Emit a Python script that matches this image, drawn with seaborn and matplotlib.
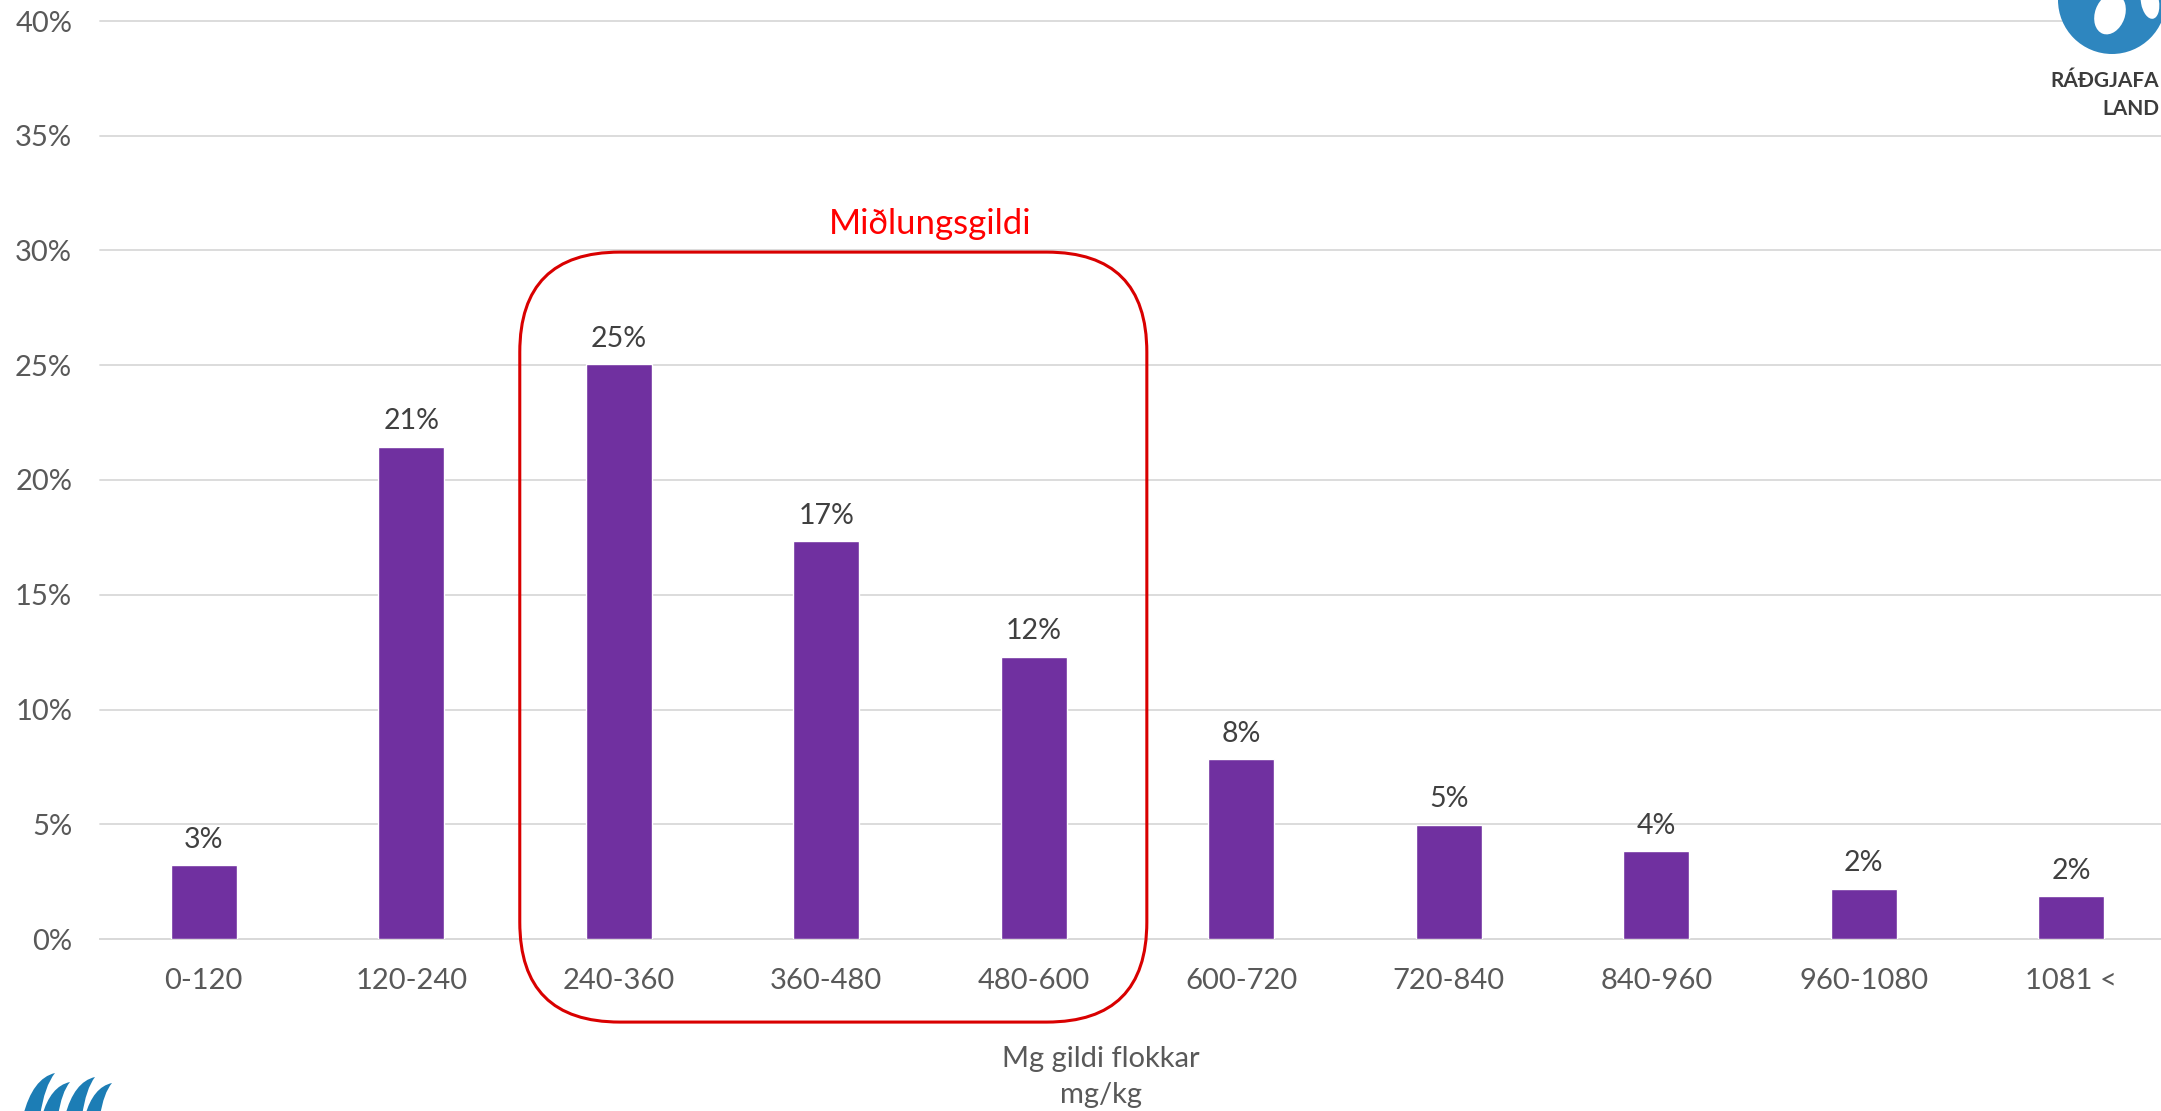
import numpy as np
import pandas as pd
import matplotlib
matplotlib.use("Agg")
import matplotlib.pyplot as plt
import seaborn as sns
from matplotlib.patches import FancyBboxPatch, Ellipse, Circle, PathPatch
from matplotlib.path import Path
from matplotlib.transforms import IdentityTransform

# ---------------- data ----------------
categories = ["0-120", "120-240", "240-360", "360-480", "480-600",
              "600-720", "720-840", "840-960", "960-1080", "1081 <"]
values = [3.22, 21.45, 25.05, 17.34, 12.29, 7.84, 4.97, 3.83, 2.18, 1.87]
y_ticks = [0, 5, 10, 15, 20, 25, 30, 35, 40]
y_tick_labels = [f"{t}%" for t in y_ticks]
x_title = "Mg gildi flokkar\nmg/kg"
highlight_label = "Miðlungsgildi"

# ---------------- style ----------------
sns.set_style("white")
plt.rcParams['font.family'] = ['Lato', 'DejaVu Sans']

W, H, DPI = 2161, 1111, 100
fig = plt.figure(figsize=(W / DPI, H / DPI), dpi=DPI)
fig.patch.set_facecolor("white")
ax = fig.add_axes([100 / W, 172 / H, 2075 / W, 918 / H])

df = pd.DataFrame({"flokkur": categories, "hlutfall": values})
sns.barplot(data=df, x="flokkur", y="hlutfall", color="#7030A0",
            saturation=1, width=0.318, errorbar=None, ax=ax, zorder=3)

ax.set_xlim(-0.5, len(categories) - 0.5)
ax.set_ylim(0, 40)
ax.set_yticks(y_ticks)
ax.set_yticklabels(y_tick_labels)

ax.bar_label(ax.containers[0], labels=[f"{v:.0f}%" for v in values],
             padding=9, fontsize=20.5, color="#404040")

ax.grid(axis="y", color="#d9d9d9", linewidth=1.3)
ax.grid(axis="x", visible=False)
ax.set_axisbelow(True)
for gl in ax.get_ygridlines():
    gl.set_clip_on(False)
for s in ["top", "right", "left"]:
    ax.spines[s].set_visible(False)
ax.spines["bottom"].set_color("#d9d9d9")
ax.spines["bottom"].set_linewidth(1.3)

ax.tick_params(axis="both", length=0, labelsize=21, labelcolor="#595959")
ax.tick_params(axis="y", pad=20)
ax.tick_params(axis="x", pad=21)

ax.set_ylabel("")
ax.set_xlabel(x_title, fontsize=21, color="#595959", linespacing=1.5)
ax.xaxis.set_label_coords((1101 - 100) / 2075, -(1046 - 939) / 918)

# highlight label and rounded box around the middle classes
ax.text(3.5, 30.7, highlight_label, ha="center", va="baseline",
        fontsize=25, color="#FF0000")

x0, x1 = 1.523, 4.545
y0, y1 = -3.62, 29.93
(px0, py0), (px1, py1) = ax.transData.transform([(x0, y0), (x1, y1)])
box = FancyBboxPatch((px0, py0), px1 - px0, py1 - py0,
                     boxstyle="round,pad=0,rounding_size=100",
                     transform=IdentityTransform(), fill=False,
                     edgecolor="#D90000", linewidth=2.2, zorder=5)
fig.add_artist(box)

# ---------------- logos (approximate) ----------------
blue = "#2E86BF"
logo = Circle((2112, H - 0), 54, transform=IdentityTransform(),
              facecolor=blue, edgecolor="none", zorder=6)
fig.add_artist(logo)
fig.add_artist(Ellipse((2110, H - 14), 30, 42, angle=-20,
                       transform=IdentityTransform(), facecolor="white",
                       edgecolor="none", zorder=7))
fig.add_artist(Ellipse((2150, H - 2), 18, 34, angle=10,
                       transform=IdentityTransform(), facecolor="white",
                       edgecolor="none", zorder=7))
fig.text(2159 / W, 1 - 87 / H, "RÁÐGJAFA", fontsize=15, fontweight="bold",
         color="#3c3c3c", ha="right", va="baseline")
fig.text(2159 / W, 1 - 115 / H, "LAND", fontsize=15, fontweight="bold",
         color="#3c3c3c", ha="right", va="baseline")

blades = [((23, 40), (55, 1073)), ((42, 58), (70, 1082)),
          ((65, 82), (95, 1077)), ((85, 100), (112, 1083))]
for (bl, br), (tx, ty) in blades:
    yb = 1116
    verts = [(bl, H - yb),
             (bl + 0.3 * (tx - bl), H - (ty + 0.12 * (yb - ty))),
             (tx, H - ty),
             (br + 0.3 * (tx - br), H - (ty + 0.3 * (yb - ty))),
             (br, H - yb),
             (bl, H - yb)]
    codes = [Path.MOVETO, Path.CURVE3, Path.CURVE3, Path.CURVE3, Path.CURVE3,
             Path.CLOSEPOLY]
    fig.add_artist(PathPatch(Path(verts, codes), transform=IdentityTransform(),
                             facecolor="#1C7DB5", edgecolor="none", zorder=6))

fig.savefig("out.png", dpi=DPI, facecolor="white")
